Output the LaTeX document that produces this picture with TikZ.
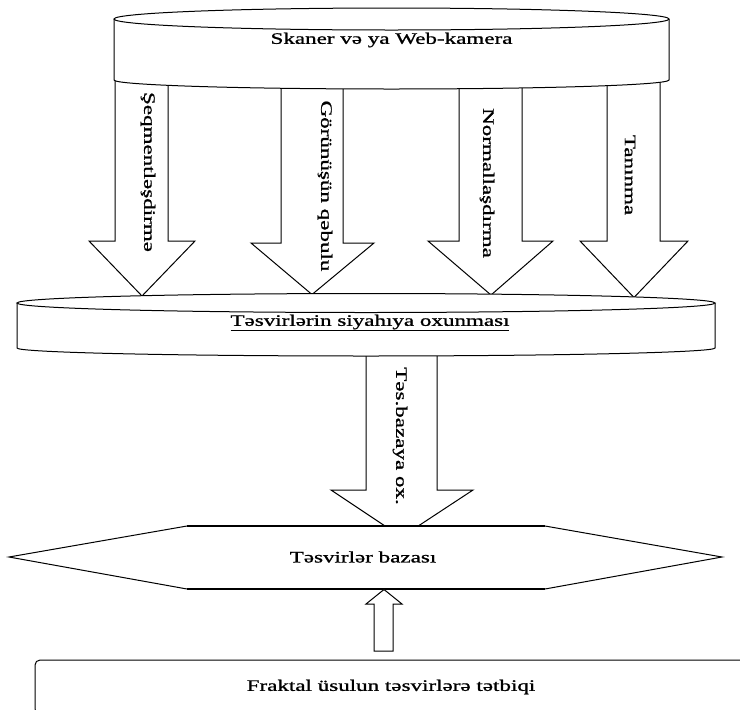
\documentclass[tikz,border=0pt]{standalone}
\usepackage{fontspec}
\setmainfont{Liberation Serif}
\newfontfamily\heavyserif{Liberation Serif}[FakeBold=0.9]
\usepackage{graphicx}
\newcommand{\wtxt}[1]{\scalebox{1.44}[1]{#1}}
\begin{document}
\begin{tikzpicture}[x=1pt,y=-1pt, line width=1pt,
  lbl/.style={inner sep=0pt, font=\heavyserif\fontsize{16}{18}\selectfont},
  vlbl/.style={lbl, rotate=-90},
  barrow/.style={draw, fill=white, line width=1pt, line join=miter},
  bold edge/.style={line width=2pt}]
\useasboundingbox (0,0) rectangle (740,710);
\clip (0,0) rectangle (740,710);

% ---- block arrows from the scanner to the list ----
\draw[barrow] (115,70) -- (115,241) -- (89,241) -- (142,296) -- (195,241) -- (168,241) -- (168,70) -- cycle;
\draw[barrow] (281,70) -- (281,243) -- (251,243) -- (312,294.5) -- (374,243) -- (343,243) -- (343,70) -- cycle;
\draw[barrow] (459,70) -- (459,241) -- (428,241) -- (491,295) -- (553,241) -- (522,241) -- (522,70) -- cycle;
\draw[barrow] (607,70) -- (607,241) -- (580,241) -- (634,297.5) -- (688,241) -- (660,241) -- (660,70) -- cycle;

\node[vlbl] (l1) at (148,172) {\wtxt{Şeqmentləşdirmə}};
\node[vlbl] (l2) at (325,186) {\wtxt{Görünüşün qəbulu}};
\node[vlbl] (l3) at (487,183) {\wtxt{Normallaşdırma}};
\node[vlbl] (l4) at (630,175) {\wtxt{Tanınma}};

% ---- scanner cylinder ----
\fill[white] (114,19) -- (114,80) arc[start angle=180, end angle=0, x radius=277.5, y radius=9] -- (669,19) -- cycle;
\draw (114,19) -- (114,80) arc[start angle=180, end angle=0, x radius=277.5, y radius=9] -- (669,19);
\draw[fill=white] (391.5,19) ellipse[x radius=277.5, y radius=11];
\node[lbl] (scan) at (391.5,40) {\wtxt{Skaner və ya Web-kamera}};

% ---- arrow to the database ----
\draw[barrow] (366,340) -- (366,490) -- (331,490) -- (401.5,537) -- (473,490) -- (437,490) -- (437,340) -- cycle;
\node[vlbl] (l5) at (400,436) {\wtxt{Təs.bazaya ox.}};

% ---- list cylinder ----
\fill[white] (17,303) -- (17,348) arc[start angle=180, end angle=0, x radius=349, y radius=8] -- (715,303) -- cycle;
\draw (17,303) -- (17,348) arc[start angle=180, end angle=0, x radius=349, y radius=8] -- (715,303);
\draw[fill=white] (366,303) ellipse[x radius=349, y radius=9.5];
\node[lbl] (list) at (370,323) {\wtxt{\underline{Təsvirlərin siyahıya oxunması}}};

% ---- database hexagon ----
\fill[white] (9,557) -- (187,526) -- (545,526) -- (722,557) -- (545,589) -- (187,589) -- cycle;
\draw (187,526) -- (9,557) -- (187,589);
\draw (545,526) -- (722,557) -- (545,589);
\draw[bold edge] (187,526) -- (545,526);
\draw[bold edge] (187,589) -- (545,589);
\node[lbl] (db) at (363,557) {\wtxt{Təsvirlər bazası}};

% ---- fractal method box ----
\node[draw, rounded corners=5pt, minimum width=712pt, minimum height=54pt, inner sep=0pt,
      lbl] (fr) at (391,687) {\wtxt{Fraktal üsulun təsvirlərə tətbiqi}};

% ---- small arrow from the box to the database ----
\draw[barrow] (374,651) -- (374,604) -- (366,604) -- (384,589.5) -- (402,604) -- (393,604) -- (393,651) -- cycle;
\end{tikzpicture}
\end{document}
